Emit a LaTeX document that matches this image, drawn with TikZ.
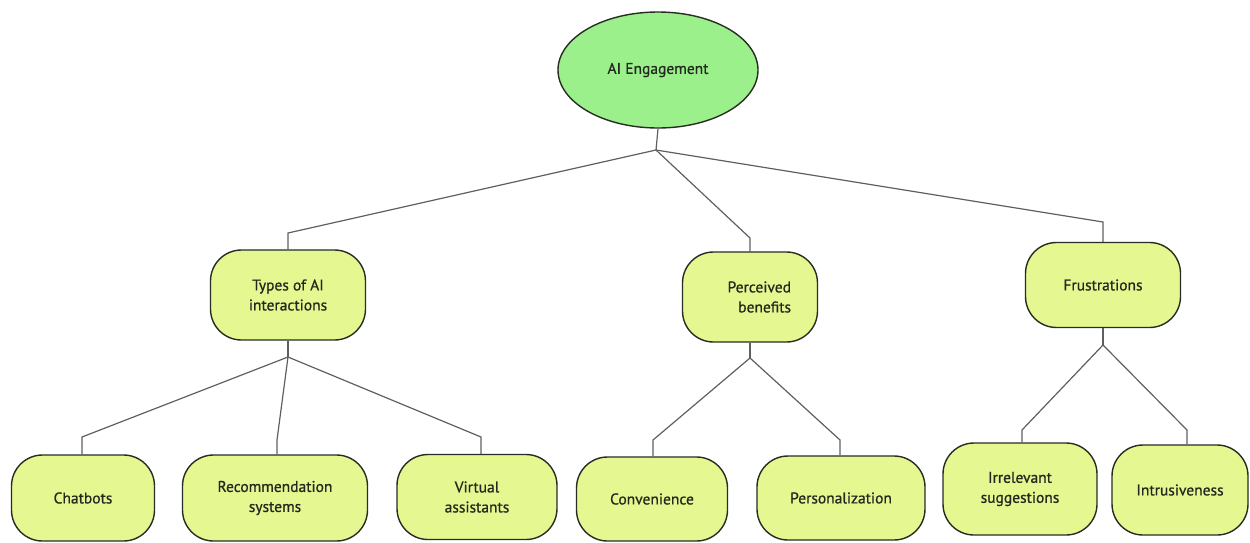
\documentclass[tikz,border=0pt]{standalone}
\usepackage{fontspec}
\setmainfont{PT Sans}
\newfontfamily\boxfont[FakeBold=0.8]{PT Sans}
\usetikzlibrary{shapes.geometric}
\definecolor{ellfill}{RGB}{155,240,140}
\definecolor{boxfill}{RGB}{228,247,144}
\definecolor{linegray}{RGB}{95,95,95}
\definecolor{bordergray}{RGB}{40,45,35}
\definecolor{txt}{RGB}{35,40,30}
\tikzset{
  topell/.style={ellipse, draw=bordergray, line width=1.4pt, fill=ellfill, minimum width=200pt, minimum height=116pt, inner sep=0pt, text=txt, font=\boxfont\fontsize{15.5}{20}\selectfont},
  rbox/.style={rectangle, rounded corners=31pt, draw=bordergray, line width=1.4pt, fill=boxfill, inner sep=0pt, align=center, text=txt, font=\boxfont\fontsize{15.5}{20}\selectfont},
  conn/.style={draw=linegray, line width=1.2pt}
}
\begin{document}
\begin{tikzpicture}[x=1pt,y=-1pt]
\useasboundingbox (0,0) rectangle (1250,542);
% root
\node[topell] (ai) at (658,70) {AI Engagement};
% middle
\node[rbox, minimum width=155pt, minimum height=90pt] (types) at (288,295) {Types of AI\\interactions};
\node[rbox, minimum width=135pt, minimum height=90pt, text width=82pt, align=right] (perc) at (750,297) {Perceived\\benefits};
\node[rbox, minimum width=155pt, minimum height=85pt] (frus) at (1103,285) {Frustrations};
% leaves
\node[rbox, minimum width=143pt, minimum height=86pt] (chat) at (83,498) {Chatbots};
\node[rbox, minimum width=185pt, minimum height=86pt] (rec) at (275,498) {Recommendation\\systems};
\node[rbox, minimum width=160pt, minimum height=85pt] (virt) at (477,497) {Virtual\\assistants};
\node[rbox, minimum width=151pt, minimum height=84pt] (conv) at (652,499) {Convenience};
\node[rbox, minimum width=168pt, minimum height=84pt] (pers) at (841,498) {Personalization};
\node[rbox, minimum width=154pt, minimum height=92pt] (irr) at (1020,489) {Irrelevant\\suggestions};
\node[rbox, minimum width=136pt, minimum height=90pt] (intr) at (1180,490) {Intrusiveness};
% junctions and bends
\coordinate (j0) at (656,150);
\coordinate (bt) at (288,233);
\coordinate (bp) at (750,238);
\coordinate (bf) at (1103,222);
\coordinate (jt) at (288,357);
\coordinate (bc) at (82,437);
\coordinate (br) at (277,440);
\coordinate (bv) at (481,437);
\coordinate (jp) at (750,358);
\coordinate (bcv) at (653,440);
\coordinate (bps) at (840,440);
\coordinate (jf) at (1103,345);
\coordinate (bi) at (1022,430);
\coordinate (bin) at (1187,430);
% connectors
\draw[conn] (ai.south) -- (j0);
\draw[conn] (j0) -- (bt) -- (types.north);
\draw[conn] (j0) -- (bp) -- (perc.north);
\draw[conn] (j0) -- (bf) -- (frus.north);
\draw[conn] (types.south) -- (jt);
\draw[conn] (jt) -- (bc) -- (bc |- chat.north);
\draw[conn] (jt) -- (br) -- (br |- rec.north);
\draw[conn] (jt) -- (bv) -- (bv |- virt.north);
\draw[conn] (perc.south) -- (jp);
\draw[conn] (jp) -- (bcv) -- (bcv |- conv.north);
\draw[conn] (jp) -- (bps) -- (bps |- pers.north);
\draw[conn] (frus.south) -- (jf);
\draw[conn] (jf) -- (bi) -- (bi |- irr.north);
\draw[conn] (jf) -- (bin) -- (bin |- intr.north);
\end{tikzpicture}
\end{document}
